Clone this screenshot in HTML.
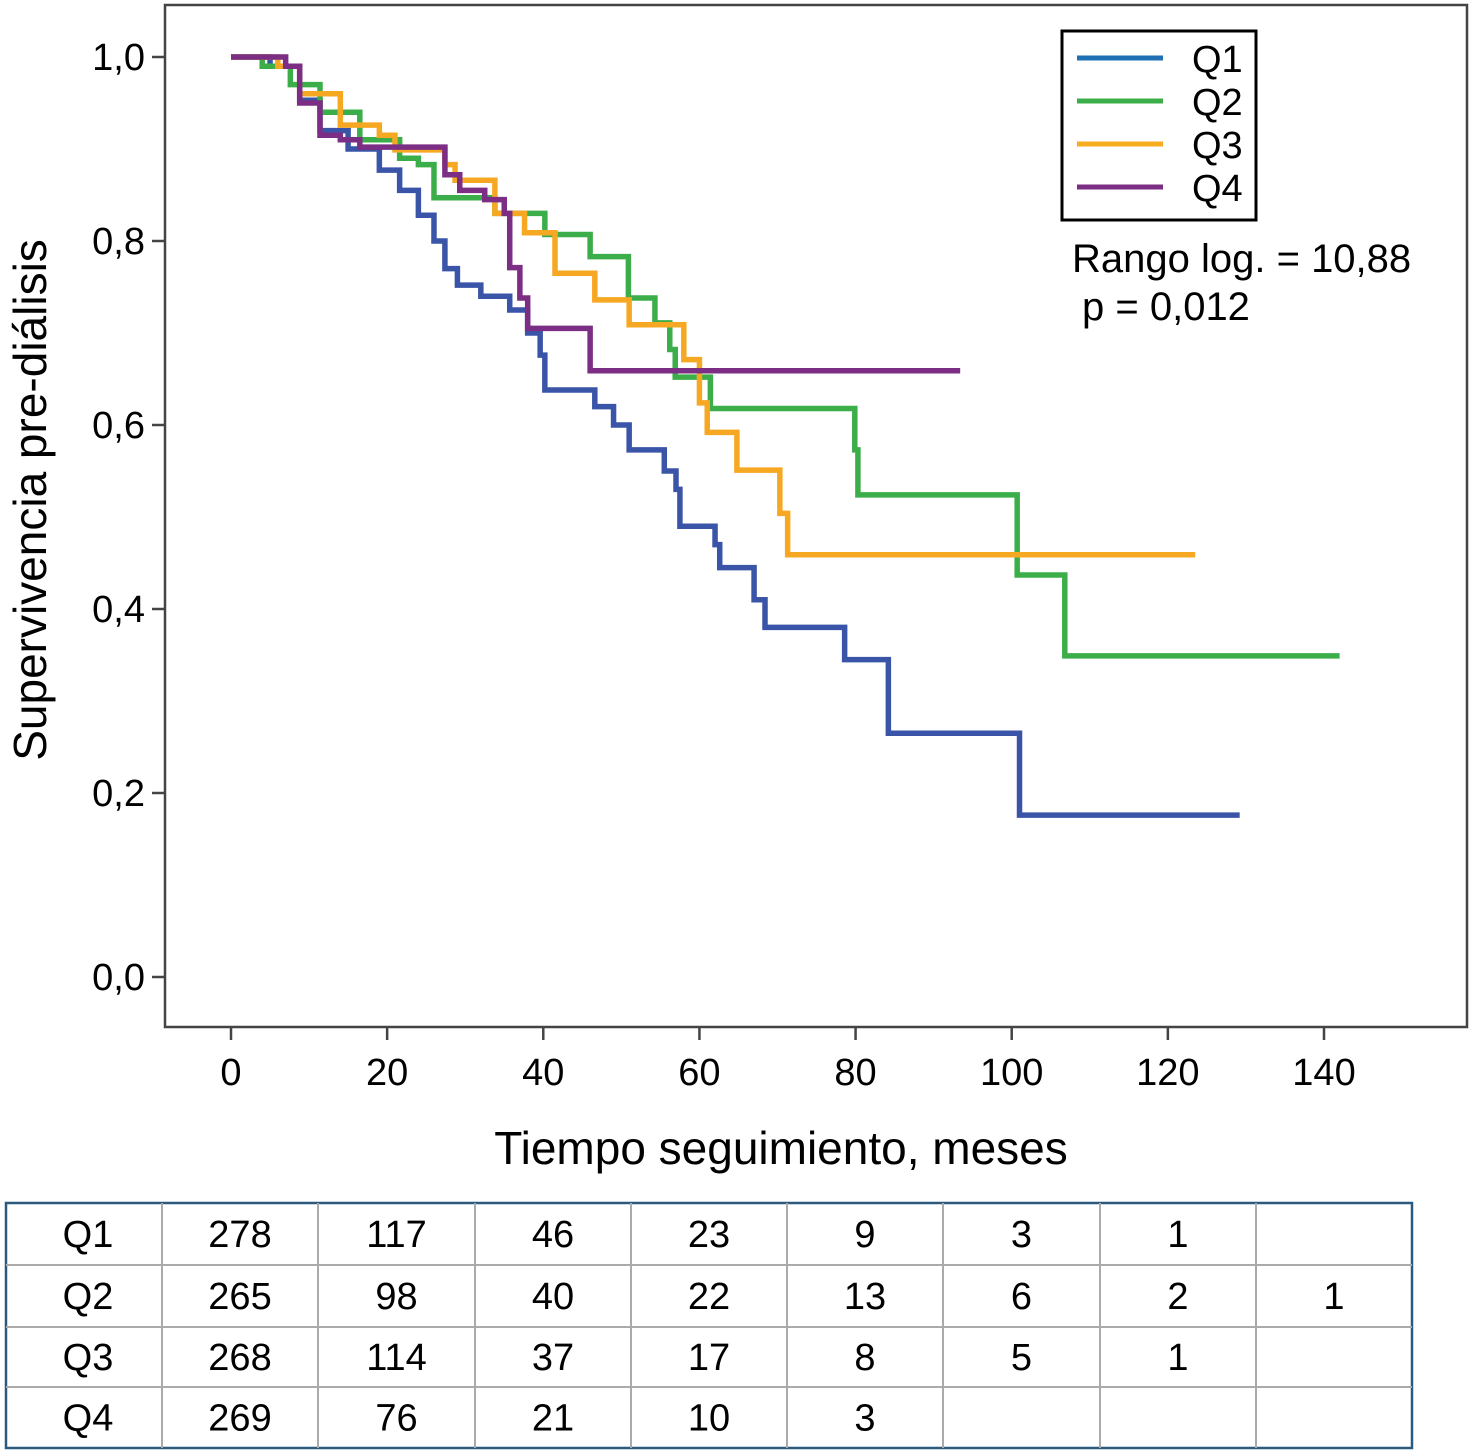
<!DOCTYPE html>
<html><head><meta charset="utf-8"><style>
body{margin:0;background:#fff;}
svg{display:block;font-family:"Liberation Sans",Arial,sans-serif;}
</style></head><body>
<svg id="c" width="1473" height="1453" viewBox="0 0 1473 1453">
<rect x="165" y="5" width="1302" height="1022" fill="#fff" stroke="#444" stroke-width="2.5"/>
<g id="axes"></g>
<g id="series"></g>
<text x="46" y="500" font-size="46" text-anchor="middle" transform="rotate(-90 46 500)">Supervivencia pre-diálisis</text>
<text x="781" y="1164" font-size="46" text-anchor="middle">Tiempo seguimiento, meses</text>
<g>
<rect x="1062" y="31" width="194" height="189" fill="#fff" stroke="#000" stroke-width="3"/>
<line x1="1077" y1="58" x2="1163" y2="58" stroke="#1f6fb4" stroke-width="5"/>
<text x="1192" y="72" font-size="38">Q1</text>
<line x1="1077" y1="101" x2="1163" y2="101" stroke="#3cae49" stroke-width="5"/>
<text x="1192" y="115" font-size="38">Q2</text>
<line x1="1077" y1="144" x2="1163" y2="144" stroke="#f7ac1e" stroke-width="5"/>
<text x="1192" y="158" font-size="38">Q3</text>
<line x1="1077" y1="187" x2="1163" y2="187" stroke="#7b2e84" stroke-width="5"/>
<text x="1192" y="201" font-size="38">Q4</text>
</g>
<text x="1072" y="272" font-size="40">Rango log. = 10,88</text>
<text x="1082" y="320" font-size="40">p = 0,012</text>
<g id="table"></g>
</svg>
<script>
const xTicks=[0,20,40,60,80,100,120,140];
const yTicks=[0,0.2,0.4,0.6,0.8,1.0];
const q1=[[0,1],[5,0.99],[8.8,0.953],[11.4,0.92],[15,0.9],[19,0.877],[21.6,0.855],[24,0.828],[26,0.8],[27.4,0.77],[29,0.752],[32,0.74],[35.7,0.725],[38,0.7],[39.6,0.676],[40.2,0.638],[46.6,0.62],[49,0.6],[51,0.573],[55.5,0.55],[57,0.53],[57.5,0.49],[62,0.47],[62.6,0.445],[67,0.41],[68.4,0.38],[78.6,0.345],[84.2,0.265],[101,0.176]];
const q2=[[0,1],[4,0.99],[7.6,0.97],[11.4,0.94],[16.5,0.91],[21.6,0.89],[24,0.883],[26,0.847],[33.8,0.83],[40.2,0.807],[46,0.783],[50.9,0.738],[54.3,0.711],[56.2,0.682],[56.9,0.652],[61.4,0.618],[79.9,0.573],[80.3,0.524],[100.7,0.437],[106.8,0.349]];
const q3=[[0,1],[6,0.99],[8.8,0.96],[14,0.926],[19,0.915],[21,0.899],[27.4,0.883],[28.7,0.866],[33.8,0.83],[37.6,0.809],[41.5,0.765],[46.6,0.736],[51,0.709],[58,0.671],[60,0.624],[61,0.592],[64.8,0.551],[70.3,0.504],[71.3,0.459]];
const q4=[[0,1],[7,0.99],[8.8,0.95],[11.4,0.915],[14,0.91],[16.5,0.902],[27.4,0.872],[29.3,0.855],[32.5,0.845],[35,0.83],[35.7,0.771],[37,0.738],[38,0.705],[46,0.659]];
const ends=[129.2,142,123.5,93.4];
const colors=["#3a55a8","#3cae49","#f7a823","#7b2e84"];
const rowLabels=["Q1","Q2","Q3","Q4"];
const riskQ1=["278","117","46","23","9","3","1",""];
const riskQ2=["265","98","40","22","13","6","2","1"];
const riskQ3=["268","114","37","17","8","5","1",""];
const riskQ4=["269","76","21","10","3","","",""];
const NS="http://www.w3.org/2000/svg";
const X=t=>231+t*(1324-231)/140, Y=s=>977-s*920;
function mk(tag,at,parent){const e=document.createElementNS(NS,tag);for(const k in at)e.setAttribute(k,at[k]);parent.appendChild(e);return e;}
const ax=document.getElementById('axes');
xTicks.forEach(t=>{mk('line',{x1:X(t),x2:X(t),y1:1027,y2:1040,stroke:'#444','stroke-width':2.5},ax);
const tx=mk('text',{x:X(t),y:1085,'font-size':38,'text-anchor':'middle'},ax);tx.textContent=t;

});
yTicks.forEach(v=>{mk('line',{x1:152,x2:165,y1:Y(v),y2:Y(v),stroke:'#444','stroke-width':2.5},ax);
const tx=mk('text',{x:145,y:Y(v)+13,'font-size':38,'text-anchor':'end'},ax);tx.textContent=v.toFixed(1).replace('.',',');

});
const sg=document.getElementById('series');
[q1,q2,q3,q4].forEach((d,i)=>{let p='M'+X(d[0][0])+','+Y(d[0][1]);
for(let k=1;k<d.length;k++){p+=' H'+X(d[k][0])+' V'+Y(d[k][1]);}
p+=' H'+X(ends[i]);
const e=mk('path',{d:p,fill:'none',stroke:colors[i],'stroke-width':5.5},sg);

});
const tb=document.getElementById('table');
const cols=[6,162,318,475,631,787,943,1100,1256,1412], rows=[1203,1265,1327,1387,1448];
mk('rect',{x:6,y:1203,width:1406,height:245,fill:'none',stroke:'#2b5a7e','stroke-width':2.5},tb);
cols.slice(1,-1).forEach(c=>mk('line',{x1:c,x2:c,y1:1203,y2:1448,stroke:'#aaa','stroke-width':2},tb));
rows.slice(1,-1).forEach(r=>mk('line',{x1:6,x2:1412,y1:r,y2:r,stroke:'#aaa','stroke-width':2},tb));
[riskQ1,riskQ2,riskQ3,riskQ4].forEach((vals,ri)=>{const cy=(rows[ri]+rows[ri+1])/2+13;
const l=mk('text',{x:88,y:cy,'font-size':38,'text-anchor':'middle'},tb);l.textContent=rowLabels[ri];


vals.forEach((v,ci)=>{if(!v)return;const t=mk('text',{x:(cols[ci+1]+cols[ci+2])/2,y:cy,'font-size':38,'text-anchor':'middle'},tb);t.textContent=v;

});});
</script>
</body></html>
